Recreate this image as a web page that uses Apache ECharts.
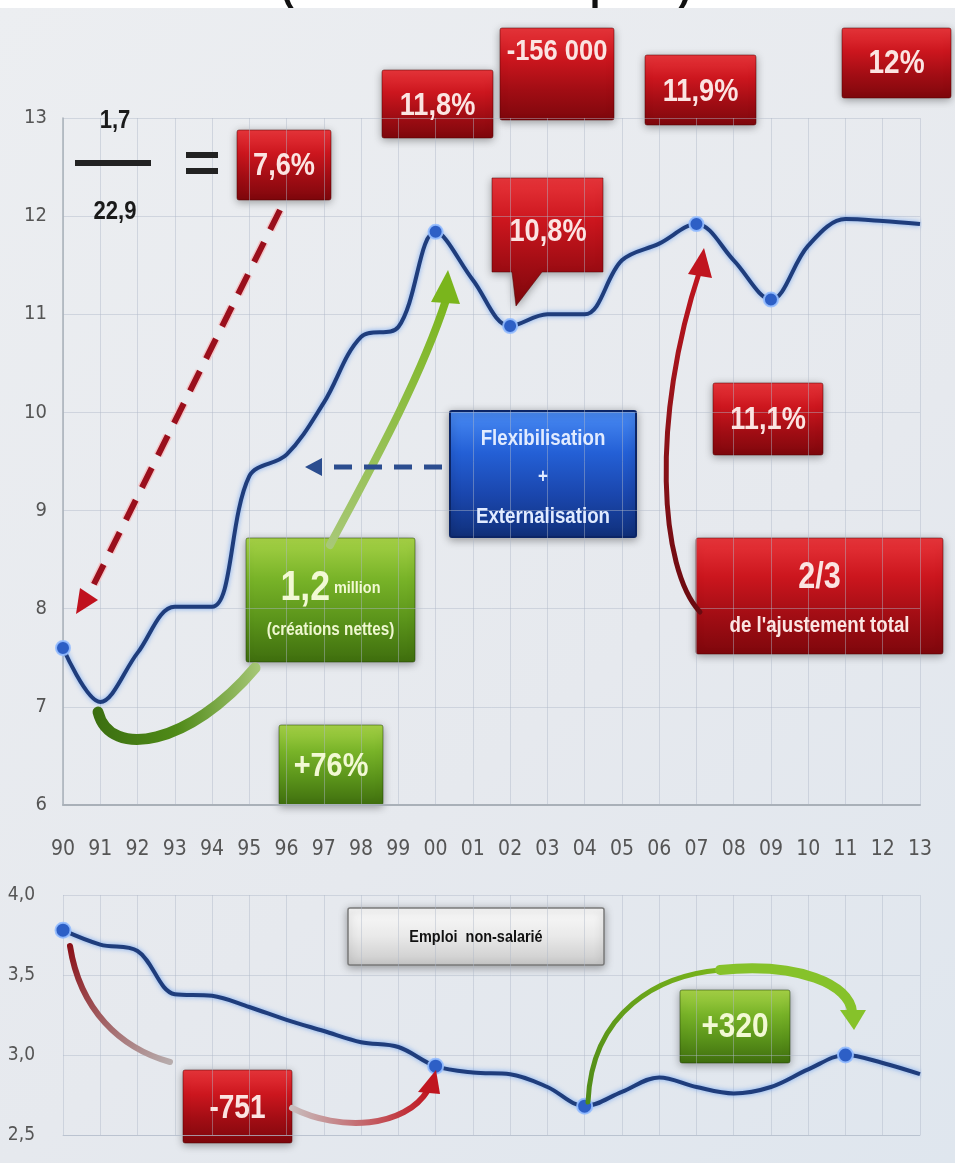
<!DOCTYPE html>
<html><head><meta charset="utf-8">
<script src="https://cdn.jsdelivr.net/npm/echarts@6/dist/echarts.min.js"></script>
<style>html,body{margin:0;padding:0;background:#fff}#c{width:955px;height:1163px}</style>
</head><body><div id="c"></div>
<script>
// ---- data ----
const years = ['90','91','92','93','94','95','96','97','98','99','00','01','02','03','04','05','06','07','08','09','10','11','12','13'];
const salaried = [7.6,7.05,7.55,8.02,8.02,9.35,9.57,10.1,10.77,10.87,11.84,11.35,10.88,11.0,11.0,11.55,11.72,11.92,11.55,11.15,11.7,11.97,11.95,11.92];
const nonSalaried = [3.78,3.69,3.65,3.38,3.37,3.3,3.22,3.15,3.08,3.05,2.93,2.89,2.88,2.8,2.68,2.77,2.86,2.8,2.76,2.8,2.91,3.0,2.95,2.88];
const salariedMarked = ['90','00','02','07','09'];
const nonSalariedMarked = ['90','00','04','11'];
const topAxis = [6, 13, 1];      // min, max, interval
const bottomAxis = [2.5, 4, 0.5];

const F = "'Liberation Sans','DejaVu Sans',sans-serif";
const FA = "'DejaVu Sans Condensed','Liberation Sans',sans-serif";
const SX = 0.85;
const chart = echarts.init(document.getElementById('c'), null, {renderer:'canvas'});

function grad(stops){return {type:'linear',x:0,y:0,x2:0,y2:1,colorStops:stops.map((c,i)=>({offset:i/(stops.length-1),color:c}))};}
const RED = grad(['#e8353a','#cc161e','#a20d14','#7e070c']);
const GREEN = grad(['#a6d246','#78b328','#5a931a','#3f6e0e']);
const BLUE = grad(['#4a8cf5','#2460d6','#1a46ad','#10307a']);
const GREY = grad(['#fbfbfb','#e9e9e9','#c9c9c9']);

function txt(x,y,text,size,color,extra){
  const st={text:text,x:0,y:0,align:'center',verticalAlign:'middle',fill:color,font:'bold '+size+'px '+F};
  if(extra&&extra.rich) st.rich=extra.rich;
  return {type:'text',x:x,y:y,scaleX:(extra&&extra.sx)||SX,z:21,style:st};
}
function box(x,y,w,h,fill,texts,opts){
  opts = opts||{};
  const children=[{type:'rect',shape:{x:0,y:0,width:w,height:h,r:2},style:{fill:fill,stroke:opts.stroke||'rgba(80,0,0,0.5)',lineWidth:opts.lw||1,shadowBlur:8,shadowColor:'rgba(0,0,0,0.35)',shadowOffsetY:2}}];
  texts.forEach(t=>children.push(txt(t.x!=null?t.x:w/2,t.y,t.text,t.size,t.color||opts.color||'#fbe4e2',t)));
  return {type:'group',x:x,y:y,z:20,children:children};
}
function curve(p,stroke,lw,z){
  return {type:'bezierCurve',z:z||10,shape:{x1:p[0],y1:p[1],cpx1:p[2],cpy1:p[3],cpx2:p[4],cpy2:p[5],x2:p[6],y2:p[7]},style:{stroke:stroke,lineWidth:lw,fill:null,lineCap:'round'}};
}
function tri(pts,fill,z){return {type:'polygon',z:z||11,shape:{points:pts},style:{fill:fill}};}

const graphics = [
  {type:'rect',z:-1,shape:{x:0,y:0,width:955,height:8},style:{fill:'#ffffff'}},
  {type:'text',z:30,style:{text:"(en millions d'emplois)",x:486,y:-10,align:'center',verticalAlign:'middle',fill:'#111',font:'bold 38px Liberation Sans, Arial, sans-serif'}},
  // fraction
  txt(115,121,'1,7',26,'#1a1a1a'),
  {type:'rect',z:20,shape:{x:75,y:160,width:76,height:6},style:{fill:'#222'}},
  txt(115,212,'22,9',26,'#1a1a1a'),
  {type:'rect',z:20,shape:{x:186,y:152,width:32,height:6},style:{fill:'#222'}},
  {type:'rect',z:20,shape:{x:186,y:168,width:32,height:6},style:{fill:'#222'}},
  // red dashed arrow
  {type:'line',z:10,shape:{x1:280,y1:210,x2:90,y2:592},style:{stroke:'#f4c6c8',lineWidth:9,lineDash:[22,14]}},
  {type:'line',z:11,shape:{x1:280,y1:210,x2:90,y2:592},style:{stroke:'#9a0f1c',lineWidth:6,lineDash:[22,14]}},
  tri([[76,614],[80,588],[98,600]],'#c0121e',12),
  // blue dashed arrow
  {type:'line',z:11,shape:{x1:442,y1:467,x2:322,y2:467},style:{stroke:'#2b4d8f',lineWidth:5,lineDash:[18,12]}},
  tri([[305,467],[322,458],[322,476]],'#2b4d8f',12),
  // green curve (91 -> 00)
  curve([98,712,110,760,190,745,255,668],{type:'linear',x:0,y:0,x2:1,y2:0,colorStops:[{offset:0,color:'#3b6e10'},{offset:0.5,color:'#4f8a18'},{offset:1,color:'#a8c878'}]},11,10),
  curve([330,545,370,470,420,380,446,300],{type:'linear',x:0,y:1,x2:0,y2:0,colorStops:[{offset:0,color:'#a8c878'},{offset:1,color:'#7ab51c'}]},8,10),
  tri([[431,302],[460,304],[448,270]],'#7ab51c',11),
  // red curve (2/3 -> 07)
  curve([700,612,660,570,650,420,700,270],{type:'linear',x:0,y:1,x2:0,y2:0,colorStops:[{offset:0,color:'#6a0a10'},{offset:0.5,color:'#8c1218'},{offset:1,color:'#c0151f'}]},5,10),
  tri([[688,274],[712,278],[704,248]],'#c0151f',11),
  // bottom red curve
  curve([70,946,80,1010,120,1048,170,1062],{type:'linear',x:0,y:0,x2:1,y2:1,colorStops:[{offset:0,color:'#8a0d14'},{offset:1,color:'#b8b0b0'}]},6,10),
  curve([292,1108,340,1132,405,1128,428,1090],{type:'linear',x:0,y:0,x2:1,y2:0,colorStops:[{offset:0,color:'#c8c0c0'},{offset:1,color:'#c0151f'}]},6,10),
  tri([[418,1092],[440,1094],[436,1070]],'#c0151f',11),
  // bottom green curve
  curve([588,1102,592,1010,660,975,720,970],{type:'linear',x:0,y:1,x2:1,y2:0,colorStops:[{offset:0,color:'#4f8a18'},{offset:1,color:'#7ab51c'}]},5,10),
  curve([720,970,800,962,850,985,852,1012],'#86c22a',10,10),
  tri([[840,1010],[866,1010],[854,1030]],'#86c22a',11),
  // boxes
  box(382,70,111,68,RED,[{text:'11,8%',y:36,size:32}]),
  box(500,28,114,92,RED,[{text:'-156 000',y:24,size:30}]),
  box(645,55,111,70,RED,[{text:'11,9%',y:37,size:32}]),
  box(842,28,109,70,RED,[{text:'12%',y:36,size:33}]),
  box(237,130,94,70,RED,[{text:'7,6%',y:36,size:32}]),
  {type:'group',x:0,y:0,z:20,children:[
    {type:'polygon',shape:{points:[[492,178],[603,178],[603,272],[542,272],[516,306],[512,272],[492,272]]},style:{fill:RED,stroke:'rgba(80,0,0,0.5)',lineWidth:1,shadowBlur:8,shadowColor:'rgba(0,0,0,0.35)',shadowOffsetY:2}},
    txt(548,232,'10,8%',32,'#fbe4e2')
  ]},
  box(450,411,186,126,BLUE,[{text:'Flexibilisation',y:28,size:22,color:'#e1ebff'},{text:'+',y:66,size:20,color:'#e1ebff'},{text:'Externalisation',y:106,size:22,color:'#e1ebff'}],{stroke:'#0b2566',lw:2}),
  box(713,383,110,72,RED,[{text:'11,1%',y:37,size:32}]),
  box(696,538,247,116,RED,[{text:'2/3',y:40,size:36},{text:"de l'ajustement total",y:88,size:22}]),
  box(246,538,169,124,GREEN,[{text:'{a|1,2} {b|million}',y:50,size:16,color:'#f2f9d4',rich:{a:{font:'bold 42px '+F,fill:'#f2f9d4'},b:{font:'bold 17px '+F,fill:'#f2f9d4'}}},{text:'(créations nettes)',y:92,size:18,color:'#eef7cf'}],{stroke:'rgba(30,60,0,0.5)'}),
  box(279,725,104,80,GREEN,[{text:'+76%',y:42,size:34,color:'#f2f9d4'}],{stroke:'rgba(30,60,0,0.5)'}),
  box(348,908,256,57,GREY,[{text:'Emploi  non-salarié',y:29,size:17,color:'#111'}],{stroke:'#7a7a7a',lw:1.5}),
  box(183,1070,109,73,RED,[{text:'-751',y:39,size:33}]),
  box(680,990,110,73,GREEN,[{text:'+320',y:37,size:35,color:'#f2f9d4'}],{stroke:'rgba(30,60,0,0.5)'})
];

const gridLine = {show:true,lineStyle:{color:'rgba(175,185,200,0.45)',width:1}};
chart.setOption({
  animation:false,
  backgroundColor:{type:'linear',x:0,y:0,x2:1,y2:1,colorStops:[{offset:0,color:'#eceef1'},{offset:0.6,color:'#e6e9ee'},{offset:1,color:'#dfe6ee'}]},
  grid:[
    {left:63,right:35,top:118,height:687},
    {left:63,right:35,top:895,height:240}
  ],
  xAxis:[
    {type:'category',gridIndex:0,data:years,boundaryGap:false,
     axisLine:{show:true,lineStyle:{color:'#a9b0b8',width:2}},axisTick:{show:false},
     axisLabel:{color:'#555',fontSize:21,fontFamily:FA,margin:34},splitLine:gridLine},
    {type:'category',gridIndex:1,data:years,boundaryGap:false,
     axisLine:{show:true,lineStyle:{color:'rgba(175,185,200,0.6)'}},axisTick:{show:false},
     axisLabel:{show:false},splitLine:gridLine}
  ],
  yAxis:[
    {type:'value',gridIndex:0,min:topAxis[0],max:topAxis[1],interval:topAxis[2],
     axisLine:{show:true,lineStyle:{color:'#a9b0b8',width:1.5}},axisTick:{show:false},
     axisLabel:{color:'#555',fontSize:20,fontFamily:FA,margin:16},splitLine:gridLine},
    {type:'value',gridIndex:1,min:bottomAxis[0],max:bottomAxis[1],interval:bottomAxis[2],
     axisLine:{show:false},axisTick:{show:false},
     axisLabel:{color:'#555',fontSize:19,fontFamily:FA,margin:28,formatter:v=>v.toFixed(1).replace('.',',')},splitLine:gridLine}
  ],
  series:[
    {type:'line',xAxisIndex:0,yAxisIndex:0,data:salaried,smooth:0.35,z:5,
     lineStyle:{color:'#1f3d7c',width:4,shadowColor:'rgba(90,150,240,0.8)',shadowBlur:5},
     symbol:'circle',showAllSymbol:true,
     symbolSize:(v,p)=>salariedMarked.includes(years[p.dataIndex])?14:0,
     itemStyle:{color:'#2d5fc6',borderColor:'rgba(150,190,255,0.9)',borderWidth:2}},
    {type:'line',xAxisIndex:1,yAxisIndex:1,data:nonSalaried,smooth:0.35,z:5,
     lineStyle:{color:'#1f3d7c',width:4,shadowColor:'rgba(90,150,240,0.8)',shadowBlur:5},
     symbol:'circle',showAllSymbol:true,
     symbolSize:(v,p)=>nonSalariedMarked.includes(years[p.dataIndex])?15:0,
     itemStyle:{color:'#2d5fc6',borderColor:'rgba(150,190,255,0.9)',borderWidth:2}}
  ],
  graphic:graphics
});
</script></body></html>
